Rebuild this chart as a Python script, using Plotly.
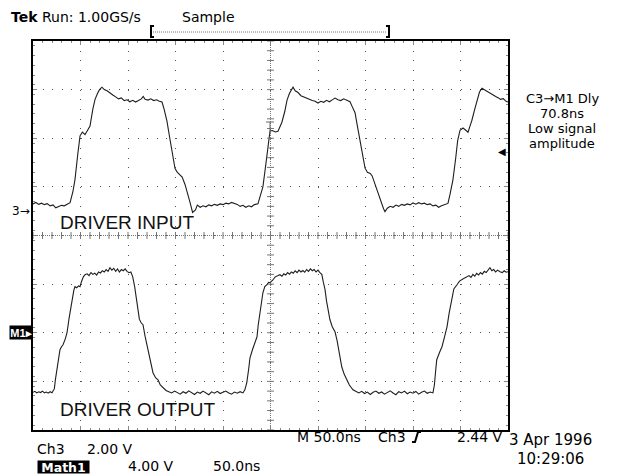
import plotly.graph_objects as go

# Ch3 = driver input, time in ns, volts (2.00 V/div)
ch3_t = [0, 3, 6, 9, 12, 15, 18, 21, 24, 27, 30, 33, 36, 39,
         42, 44.2, 47, 49.5, 52, 54.7, 57, 60, 63, 65.3, 68, 70, 72.6,
         75, 78, 81, 84, 87, 90, 93, 96, 99, 102, 105, 108, 111, 114, 116, 118, 121, 124, 127, 130, 133, 135.8,
         138, 141, 144, 146.3, 148, 149.5, 152, 155, 157, 160, 162, 165, 168, 171, 173, 176,
         179, 182, 185, 188, 191, 194, 197, 200, 203, 206, 209, 212, 215, 218, 221, 224, 227, 230, 233, 236.8,
         239, 242, 245, 247.4, 249.5, 252, 255, 257.9, 260, 262, 265, 267.4, 270, 273.7,
         276, 279, 282, 285, 288, 291, 294, 297, 300, 303, 306, 309, 312, 315, 318, 321, 324, 327, 330, 333.7,
         336, 339, 341, 344, 347, 349.5, 352, 355, 357, 360, 363, 366, 369, 370.5, 373, 376,
         379, 382, 385, 388, 391, 394, 397, 400, 403, 406, 409, 412, 415, 418, 421, 424, 427, 430, 433, 436.8,
         439, 442, 445, 447, 449.5, 452.6, 455, 457.9, 460, 462, 465, 467.4, 470, 472.6,
         475, 478, 481, 484, 487, 490, 492, 495, 498, 500]
ch3_v = [0.30, 0.36, 0.28, 0.33, 0.27, 0.31, 0.22, 0.26, 0.14, 0.20, 0.24, 0.22, 0.30, 0.35,
         0.80, 1.30, 2.30, 3.10, 3.25, 3.15, 3.30, 3.50, 4.20, 4.60, 4.85, 5.00, 5.10,
         5.00, 4.95, 4.85, 4.78, 4.70, 4.62, 4.66, 4.55, 4.58, 4.50, 4.56, 4.49, 4.55, 4.62, 4.72, 4.60, 4.57, 4.62, 4.55, 4.58, 4.52, 4.49,
         4.20, 3.70, 3.00, 2.50, 2.00, 1.75, 1.60, 1.50, 1.40, 1.10, 0.85, 0.40, -0.05, 0.05, 0.25, 0.16,
         0.22, 0.18, 0.26, 0.22, 0.28, 0.24, 0.30, 0.27, 0.33, 0.30, 0.36, 0.32, 0.28, 0.20, 0.24, 0.16, 0.22, 0.18, 0.27, 0.30,
         0.60, 1.00, 1.90, 2.60, 3.30, 3.32, 3.26, 3.29, 3.50, 3.66, 4.10, 4.57, 4.85, 5.10,
         4.95, 4.88, 4.75, 4.70, 4.62, 4.60, 4.55, 4.52, 4.45, 4.52, 4.48, 4.56, 4.50, 4.58, 4.65, 4.58, 4.55, 4.62, 4.57, 4.50,
         4.30, 4.05, 3.60, 2.90, 2.20, 1.77, 1.60, 1.55, 1.45, 1.10, 0.75, 0.40, 0.10, -0.02, 0.12, 0.20,
         0.16, 0.25, 0.20, 0.28, 0.24, 0.30, 0.26, 0.34, 0.29, 0.35, 0.30, 0.33, 0.27, 0.30, 0.22, 0.25, 0.16, 0.22, 0.26, 0.32,
         0.70, 1.28, 2.20, 2.90, 3.33, 3.42, 3.35, 3.25, 3.50, 3.74, 4.20, 4.57, 4.90, 5.06,
         5.00, 4.92, 4.86, 4.80, 4.72, 4.66, 4.60, 4.63, 4.52, 4.49]

# Math1 = driver output, time in ns, volts (4.00 V/div)
m1_t = [0, 2, 4, 6, 8, 10, 12, 14, 16, 18, 20, 21.5,
        22.5, 23.5, 25, 27, 28.4, 30, 31.6, 34, 35.8, 38, 41, 43, 44.2, 46, 48, 49.5, 51, 53, 54.7,
        57, 59, 61, 63, 65, 67, 69, 71, 73, 75, 77, 79, 81, 83, 85, 87, 89, 91, 93, 95, 97, 99, 101, 103, 105,
        107, 109, 110.5, 112, 114, 115.8, 118, 121, 124, 126.3, 129, 131.6, 134, 136.8, 140, 143,
        146, 149, 152, 155, 158, 161, 164, 167, 170, 173, 176, 179, 182, 185, 188, 191, 194, 197, 200, 203, 206, 209, 212, 215, 218, 221,
        223, 225, 227, 228.4, 231, 233, 235.8, 237, 239, 241, 242, 244, 246.3, 248, 249.5,
        252, 255, 258, 260, 262, 264, 266, 268, 270, 272, 274, 276, 278, 280, 282, 284, 286, 288, 290, 292, 294, 296, 298, 300, 302, 304, 305.5,
        307.4, 309, 311, 312.6, 315, 317.9, 320, 323, 325, 327.5, 330.5, 333, 336.8, 340,
        343, 346, 349, 352, 355, 358, 361, 364, 367, 370, 373, 376, 379, 382, 385, 388, 391, 394, 397, 400, 403, 406, 409, 412, 415, 418, 421,
        422.5, 424, 425, 428, 430.5, 433, 435.8, 438, 441, 443, 446.3, 449, 452, 454, 456.8,
        459, 461, 463, 465, 467, 469, 471, 473, 475, 477, 479, 481, 483, 485, 487, 489, 491.6, 494, 496, 498, 500]
m1_v = [-4.90, -4.82, -4.95, -4.86, -4.92, -4.80, -4.94, -4.88, -4.97, -4.85, -4.93, -4.78,
        -4.60, -3.90, -3.10, -2.00, -1.40, -1.15, -0.99, -0.50, 0.00, 1.20, 2.72, 3.50, 3.79, 3.70, 3.85, 3.79, 4.20, 4.60, 4.77,
        4.85, 4.70, 4.95, 4.80, 4.90, 4.75, 5.00, 4.92, 5.10, 5.00, 5.20, 5.05, 5.35, 5.15, 5.30, 5.05, 5.25, 5.00, 5.20, 5.10, 5.25, 5.05, 4.94, 5.00, 4.60,
        3.80, 2.60, 1.65, 1.10, 0.80, 0.66, -0.30, -1.40, -2.50, -3.29, -3.70, -3.87, -4.30, -4.53, -4.75, -4.86,
        -4.95, -4.80, -4.92, -5.05, -4.85, -4.98, -4.78, -4.95, -5.08, -4.88, -4.98, -4.80, -4.93, -5.10, -4.86, -4.97, -4.82, -5.00, -4.90, -4.80, -4.95, -5.05, -4.88, -4.97, -4.85, -4.95,
        -4.70, -4.12, -3.00, -2.06, -1.40, -0.90, -0.33, 0.60, 1.65, 2.70, 3.29, 3.80, 3.95, 4.15, 4.12,
        4.30, 4.60, 4.70, 4.77, 4.65, 4.85, 4.75, 4.95, 4.82, 5.00, 4.90, 5.10, 4.95, 5.15, 5.00, 5.12, 4.98, 5.20, 5.05, 5.25, 5.10, 5.20, 5.00, 5.15, 4.94, 4.80, 4.20,
        3.54, 2.60, 1.60, 1.07, 0.50, 0.08, -0.60, -2.00, -2.80, -3.40, -3.87, -4.30, -4.69, -4.85,
        -4.95, -4.82, -5.00, -4.88, -5.08, -4.90, -4.80, -4.98, -4.87, -5.05, -4.90, -4.78, -4.96, -5.10, -4.85, -4.95, -4.80, -5.02, -4.88, -4.97, -4.83, -5.05, -4.90, -4.80, -4.98, -4.88, -4.95,
        -4.30, -3.00, -2.22, -1.60, -1.15, -0.40, 0.49, 1.60, 2.96, 3.60, 3.95, 4.25, 4.40, 4.50, 4.61,
        4.70, 4.55, 4.80, 4.65, 4.88, 4.75, 4.95, 4.82, 5.05, 4.95, 5.15, 5.35, 5.10, 5.20, 5.00, 5.15, 5.02, 4.95, 5.10, 4.98, 5.02]

# scope settings
time_per_div = 50.0      # ns
ch3_per_div = 2.00       # V
m1_per_div = 4.00        # V
ch3_ground_div = 0.5     # divisions above centre
m1_ground_div = -2.0
trigger_level = 2.44     # V
n_hdiv, n_vdiv = 10, 8

# --------------- geometry helpers (screen pixel -> paper) ---------------
PAGE = 8                     # default body margin of the html page
L, R, T, B = 33, 508, 41, 430  # screen pixels of the graticule
W, H = 618 - PAGE, 474 - PAGE
def px(x):
    return (x - L) / (R - L)
def py(y):
    return (B - y) / (B - T)

ch3_range = [(-n_vdiv / 2 - ch3_ground_div) * ch3_per_div, (n_vdiv / 2 - ch3_ground_div) * ch3_per_div]
m1_range = [(-n_vdiv / 2 - m1_ground_div) * m1_per_div, (n_vdiv / 2 - m1_ground_div) * m1_per_div]
x_range = [0, n_hdiv * time_per_div]

fig = go.Figure()
trace_col = "#1e1e1e"
fig.add_trace(go.Scatter(x=ch3_t, y=ch3_v, mode="lines", line=dict(color=trace_col, width=1.1),
                         yaxis="y", hoverinfo="skip", showlegend=False))
fig.add_trace(go.Scatter(x=m1_t, y=m1_v, mode="lines", line=dict(color=trace_col, width=1.1),
                         yaxis="y2", hoverinfo="skip", showlegend=False))

# centre cross-hair tick marks
cx = x_range[0] + n_hdiv / 2 * time_per_div
cy = ch3_range[0] + n_vdiv / 2 * ch3_per_div
hx = [x_range[0] + i * time_per_div / 5 for i in range(n_hdiv * 5 + 1)]
vy = [ch3_range[0] + i * ch3_per_div / 5 for i in range(n_vdiv * 5 + 1)]
fig.add_trace(go.Scatter(x=hx, y=[cy] * len(hx), mode="markers", hoverinfo="skip", showlegend=False,
                         marker=dict(symbol="line-ns", size=5, line=dict(color="#777", width=1))))
fig.add_trace(go.Scatter(x=[cx] * len(vy), y=vy, mode="markers", hoverinfo="skip", showlegend=False,
                         marker=dict(symbol="line-ew", size=5, line=dict(color="#777", width=1))))

grid_col = "#555"
tick_col = "#888"
fig.update_layout(
    width=W, height=H,
    margin=dict(l=L - PAGE, r=(618 - PAGE) - (R - PAGE), t=T - PAGE, b=(474 - PAGE) - (B - PAGE)),
    paper_bgcolor="white", plot_bgcolor="white",
    xaxis=dict(range=x_range, tick0=0, dtick=time_per_div, showticklabels=False,
               showgrid=True, gridcolor=grid_col, gridwidth=1, griddash="1px,8.72px",
               zeroline=False, showline=True, linecolor="black", linewidth=1.5, mirror="ticks",
               ticks="inside", ticklen=4, tickcolor=tick_col,
               minor=dict(dtick=time_per_div / 5, ticks="inside", ticklen=2, tickcolor=tick_col, showgrid=False)),
    yaxis=dict(range=ch3_range, tick0=ch3_range[0], dtick=ch3_per_div, showticklabels=False,
               showgrid=True, gridcolor=grid_col, gridwidth=1, griddash="1px,8.5px",
               zeroline=False, showline=True, linecolor="black", linewidth=1.5, mirror="ticks",
               ticks="inside", ticklen=4, tickcolor=tick_col,
               minor=dict(dtick=ch3_per_div / 5, ticks="inside", ticklen=2, tickcolor=tick_col, showgrid=False)),
    yaxis2=dict(range=m1_range, overlaying="y", showgrid=False, showticklabels=False,
                zeroline=False, showline=False, ticks=""),
    font=dict(family="DejaVu Sans", color="black"),
)

shapes = []
# dense centre lines
shapes.append(dict(type="line", xref="x", yref="paper", x0=cx, x1=cx, y0=0, y1=1,
                   line=dict(color="#777", width=1, dash="1px,1px")))
shapes.append(dict(type="line", xref="paper", yref="y", x0=0, x1=1, y0=cy, y1=cy,
                   line=dict(color="#777", width=1, dash="1px,1px")))
# right edge line of the screen
shapes.append(dict(type="line", xref="paper", yref="paper", x0=px(616.5), x1=px(616.5), y0=py(0), y1=py(474),
                   line=dict(color="black", width=1.5)))
# record bracket
shapes.append(dict(type="path", xref="paper", yref="paper",
                   path=f"M {px(154)},{py(26)} L {px(151)},{py(26)} L {px(151)},{py(37)} L {px(154)},{py(37)}",
                   line=dict(color="black", width=2)))
shapes.append(dict(type="path", xref="paper", yref="paper",
                   path=f"M {px(386)},{py(26)} L {px(389)},{py(26)} L {px(389)},{py(37)} L {px(386)},{py(37)}",
                   line=dict(color="black", width=2)))
shapes.append(dict(type="line", xref="paper", yref="paper", x0=px(153), x1=px(387), y0=py(32), y1=py(32),
                   line=dict(color="#777", width=1, dash="1px,1px")))
# trigger 'T' marker
shapes.append(dict(type="line", xref="paper", yref="paper", x0=px(266), x1=px(274), y0=py(122), y1=py(122),
                   line=dict(color="#666", width=1)))
shapes.append(dict(type="line", xref="paper", yref="paper", x0=px(270), x1=px(270), y0=py(122), y1=py(134),
                   line=dict(color="#666", width=1)))
# rising-edge trigger slope glyph
shapes.append(dict(type="path", xref="paper", yref="paper",
                   path=f"M {px(412)},{py(442)} L {px(415)},{py(442)} L {px(418)},{py(432)} L {px(421)},{py(432)}",
                   line=dict(color="black", width=2)))
fig.update_layout(shapes=shapes)

ann = []
def text(t, x, y, size=14, anchor="left", family="DejaVu Sans", **kw):
    ann.append(dict(text=t, x=px(x), y=py(y), xref="paper", yref="paper", xanchor=anchor, yanchor="middle",
                    showarrow=False, font=dict(size=size, family=family, color=kw.pop("color", "black")), **kw))

text("<b>Tek</b> Run: 1.00GS/s", 10, 17, 14, borderpad=0)
text("Sample", 181, 17, 14, borderpad=0)
text("DRIVER INPUT", 58, 222, 19, family="Liberation Sans", color="#111")
text("DRIVER OUTPUT", 58, 409, 19, family="Liberation Sans", color="#111")
text("C3→M1 Dly", 562, 98.5, 13, anchor="center", borderpad=0)
text("70.8ns", 562, 113.5, 13, anchor="center", borderpad=0)
text("Low signal", 562, 128.5, 13, anchor="center", borderpad=0)
text("amplitude", 562, 143.5, 13, anchor="center", borderpad=0)
text("Ch3", 35, 449, 14)
text("2.00 V", 85, 449, 14)
text("<b>Math1</b>", 37, 466.5, 12.5, color="white", bgcolor="black", borderpad=0, width=51, height=12)
text("4.00 V", 126, 466, 14)
text("50.0ns", 211, 466, 14)
text("M 50.0ns", 295, 437, 14)
text("Ch3", 376, 437, 14)
text("2.44 V", 505, 437, 14, anchor="right")
text("3 Apr 1996", 507, 440, 15)
text("10:29:06", 515, 459, 15)

# channel ground markers and trigger level arrow
ann.append(dict(text="3→", x=px(32), y=0, xref="paper", yref="y", xanchor="right", yanchor="middle",
                showarrow=False, font=dict(size=12, family="DejaVu Sans", color="black")))
ann.append(dict(text="<b>M1▸</b>", x=px(33), y=0, xref="paper", yref="y2", xanchor="right", yanchor="middle",
                showarrow=False, bgcolor="black", borderpad=0, width=22, height=13,
                font=dict(size=11, family="Liberation Sans", color="white")))
ann.append(dict(text="◀", x=1, y=trigger_level, xref="paper", yref="y", xanchor="right", yanchor="middle",
                showarrow=False, font=dict(size=10, family="DejaVu Sans", color="black")))
fig.update_layout(annotations=ann)

fig.write_html("out.html")
